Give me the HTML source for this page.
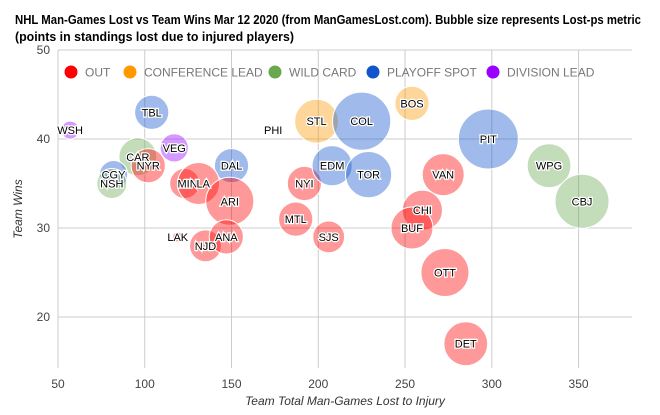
<!DOCTYPE html>
<html><head><meta charset="utf-8"><style>
html,body{margin:0;padding:0;background:#fff;}
svg{display:block;font-family:"Liberation Sans",sans-serif;}
</style></head><body>
<svg id="chart" width="660" height="415" viewBox="0 0 660 415">
<text x="15" y="24" font-size="12.5" font-weight="bold" fill="#000" textLength="626" lengthAdjust="spacingAndGlyphs">NHL Man-Games Lost vs Team Wins Mar 12 2020 (from ManGamesLost.com). Bubble size represents Lost-ps metric</text>
<text x="15" y="41" font-size="12.5" font-weight="bold" fill="#000" textLength="279" lengthAdjust="spacingAndGlyphs">(points in standings lost due to injured players)</text>
<g id="grid"></g><g id="bubbles"></g><g id="labels"></g><g id="legend"></g>
<text x="345" y="405" font-size="12" font-style="italic" fill="#333" text-anchor="middle">Team Total Man-Games Lost to Injury</text>
<text transform="translate(22,209) rotate(-90)" font-size="12" font-style="italic" fill="#333" text-anchor="middle">Team Wins</text>
</svg>
<script>
const teams=["WSH","TBL","CAR","NYR","CGY","NSH","VEG","DAL","MIN","LA","ARI","LAK","NJD","ANA","MTL","NYI","SJS","PHI","STL","COL","BOS","EDM","TOR","PIT","WPG","CBJ","VAN","CHI","BUF","OTT","DET"];
const manGames=[57,104,96,102,82,81,117,150,123,131,149,119,135,147,187,192,206,174,199,225,254,208,229,298,333,352,272,260,254,273,285];
const wins=[41,43,38,37,36,35,39,37,35,35,33,29,28,29,31,35,29,41,42,42,44,37,36,40,37,33,36,32,30,25,17];
const lostPs=[3,5.7,6.3,5.7,4.7,5,4.7,5.7,5,7,8,1.7,5.3,5.7,5.7,5.7,5.3,0.7,7.3,9.7,5.7,6.7,7.7,10,7.3,9,7,6.7,7,8,7.3];
const group=[4,3,2,0,3,2,4,3,0,0,0,0,0,0,0,0,0,3,1,3,1,3,3,3,2,2,0,0,0,0,0];
const groupNames=["OUT","CONFERENCE LEAD","WILD CARD","PLAYOFF SPOT","DIVISION LEAD"];
const groupColors=["#ff0000","#ff9900","#6aa84f","#1155cc","#9900ff"];
const xTicks=[50,100,150,200,250,300,350];
const yTicks=[20,30,40,50];
const NS="http://www.w3.org/2000/svg";
const X0=58,X1=632,Y0=50,Y1=368;
const xMin=50,xMax=380.8,yMin=14.27,yMax=50;
const xs=v=>X0+(v-xMin)/(xMax-xMin)*(X1-X0);
const ys=v=>Y1-(v-yMin)/(yMax-yMin)*(Y1-Y0);
const rs=v=>v*3;
function mk(t,a,p){const e=document.createElementNS(NS,t);for(const k in a)e.setAttribute(k,a[k]);p.appendChild(e);return e;}
const grid=document.getElementById('grid');
xTicks.forEach(t=>{
 const l=mk('line',{x1:xs(t),x2:xs(t),y1:Y0,y2:Y1,stroke:'#ccc','stroke-width':1},grid);
 
 
 const tx=mk('text',{x:xs(t),y:388,'font-size':12,fill:'#444','text-anchor':'middle'},grid);tx.textContent=t;
 
 
});
yTicks.forEach(t=>{
 const l=mk('line',{x1:X0,x2:X1,y1:ys(t),y2:ys(t),stroke:'#ccc','stroke-width':1},grid);
 
 
 const tx=mk('text',{x:X0-8,y:ys(t)+4,'font-size':12,fill:'#444','text-anchor':'end'},grid);tx.textContent=t;
 
 
});
const bl=document.getElementById('bubbles'),lb=document.getElementById('labels');
teams.forEach((t,i)=>{
 const c=mk('circle',{cx:xs(manGames[i]),cy:ys(wins[i]),r:rs(lostPs[i]),fill:groupColors[group[i]],'fill-opacity':0.4,stroke:'#fff','stroke-width':1},bl);
 
 
});
teams.forEach((t,i)=>{
 let x=xs(manGames[i]);
 const a={x:x,y:ys(wins[i])+4,'font-size':11,fill:'#000','text-anchor':'middle',stroke:'#fff','stroke-width':2.5,'paint-order':'stroke'};
 if(t==="MIN"){a.x=x+13;a['text-anchor']='end';}
 if(t==="LA"){a.x=x-2;a['text-anchor']='start';}
 const tx=mk('text',a,lb);tx.textContent=t;
 
 
});
const lg=document.getElementById('legend');
const lx=[71,130,275,373,493];
groupNames.forEach((g,i)=>{
 const c=mk('circle',{cx:lx[i],cy:72,r:6.5,fill:groupColors[i]},lg);
 
 
 const tx=mk('text',{x:lx[i]+14,y:76.5,'font-size':12,fill:'#777'},lg);tx.textContent=g;
 
 
});
</script>
</body></html>
